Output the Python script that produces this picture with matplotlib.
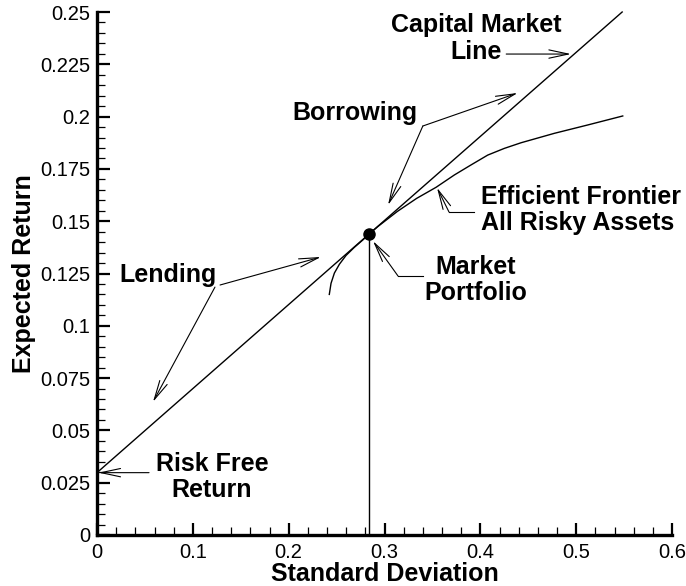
import matplotlib
matplotlib.use("Agg")
import matplotlib.pyplot as plt
from matplotlib.ticker import MultipleLocator

plt.rcParams['font.family'] = ['Liberation Sans', 'DejaVu Sans']

# ---- data ----
risk_free = 0.0298
cml_sd = [0.0, 0.548]
cml_ret = [0.0298, 0.25]
market_sd = [0.2835]
market_ret = [0.1437]
frontier_sd = [0.2424, 0.2442, 0.2477, 0.2529, 0.2598, 0.2685, 0.2773, 0.2835,
               0.2935, 0.3135, 0.3335, 0.3538, 0.3729, 0.3903, 0.4077, 0.4250,
               0.4425, 0.4772, 0.5121, 0.5486]
frontier_ret = [0.1150, 0.1203, 0.1252, 0.1294, 0.1336, 0.1375, 0.1410, 0.1437,
                0.1476, 0.1547, 0.1609, 0.1662, 0.1721, 0.1769, 0.1816, 0.1848,
                0.1875, 0.1920, 0.1960, 0.2003]
x_ticks = [0, 0.1, 0.2, 0.3, 0.4, 0.5, 0.6]
x_tick_labels = ['0', '0.1', '0.2', '0.3', '0.4', '0.5', '0.6']
y_ticks = [0, 0.025, 0.05, 0.075, 0.1, 0.125, 0.15, 0.175, 0.2, 0.225, 0.25]
y_tick_labels = ['0', '0.025', '0.05', '0.075', '0.1', '0.125', '0.15', '0.175',
                 '0.2', '0.225', '0.25']

fig = plt.figure(figsize=(6.86, 5.86), dpi=100)
ax = fig.add_axes([97/686, 1-535/586, (672-97)/686, (535-12)/586])

lw = 1.0
ax.plot(cml_sd, cml_ret, color='black', lw=lw, clip_on=False)
ax.plot(frontier_sd, frontier_ret, color='black', lw=lw, clip_on=False)
ax.plot([market_sd[0], market_sd[0]], [0, market_ret[0]], color='black', lw=lw)
ax.plot(market_sd, market_ret, 'o', color='black', ms=8, clip_on=False, zorder=5)

ax.set_xlim(0, 0.6)
ax.set_ylim(0, 0.25)
ax.set_xticks(x_ticks)
ax.set_xticklabels(x_tick_labels)
ax.set_yticks(y_ticks)
ax.set_yticklabels(y_tick_labels)
ax.xaxis.set_minor_locator(MultipleLocator(0.02))
ax.yaxis.set_minor_locator(MultipleLocator(0.005))
ax.tick_params(which='major', direction='in', length=9, width=1.6, labelsize=14.5)
ax.tick_params(which='minor', direction='in', length=5.5, width=0.9)
ax.tick_params(axis='y', which='major', pad=5)
ax.tick_params(axis='x', which='major', pad=6)
for s in ['top', 'right']:
    ax.spines[s].set_visible(False)
for s in ['left', 'bottom']:
    ax.spines[s].set_linewidth(2.4)

fs = 18
ax.set_xlabel('Standard Deviation', fontsize=fs, fontweight='bold', labelpad=0)
ax.set_ylabel('Expected Return', fontsize=fs, fontweight='bold', labelpad=3)

def arrow(tail, head):
    ax.annotate('', xy=head, xytext=tail,
                arrowprops=dict(arrowstyle='->,head_length=0.7,head_width=0.15',
                                lw=0.8, color='black', shrinkA=0, shrinkB=0,
                                mutation_scale=20),
                annotation_clip=False)

# Capital Market Line
ax.text(0.3955, 0.2373, 'Capital Market\nLine', ha='center', va='center',
        multialignment='center', fontsize=fs, fontweight='bold', linespacing=1.15)
arrow((0.427, 0.2299), (0.4946, 0.2299))

# Borrowing
ax.text(0.269, 0.2017, 'Borrowing', ha='center', va='center', fontsize=fs, fontweight='bold')
arrow((0.340, 0.1955), (0.439, 0.2113))
arrow((0.340, 0.1955), (0.3037, 0.1577))

# Efficient Frontier
ax.text(0.4007, 0.1553, 'Efficient Frontier\nAll Risky Assets', ha='left', va='center',
        fontsize=fs, fontweight='bold', linespacing=1.1)
ax.plot([0.3934, 0.3673], [0.1544, 0.1544], color='black', lw=0.8)
arrow((0.3673, 0.1544), (0.3548, 0.1660))

# Market Portfolio
ax.text(0.3955, 0.1217, 'Market\nPortfolio', ha='center', va='center',
        fontsize=fs, fontweight='bold', linespacing=1.1)
ax.plot([0.340, 0.3141], [0.1238, 0.1238], color='black', lw=0.8)
arrow((0.3141, 0.1238), (0.2880, 0.1405))

# Lending
ax.text(0.074, 0.1243, 'Lending', ha='center', va='center', fontsize=fs, fontweight='bold')
arrow((0.1284, 0.1195), (0.2337, 0.1329))
arrow((0.1231, 0.1185), (0.0584, 0.0636))

# Risk Free Return
ax.text(0.120, 0.0277, 'Risk Free\nReturn', ha='center', va='center',
        fontsize=fs, fontweight='bold', linespacing=1.1)
arrow((0.0543, risk_free), (0.0015, risk_free))

fig.savefig('out.png', dpi=100)
